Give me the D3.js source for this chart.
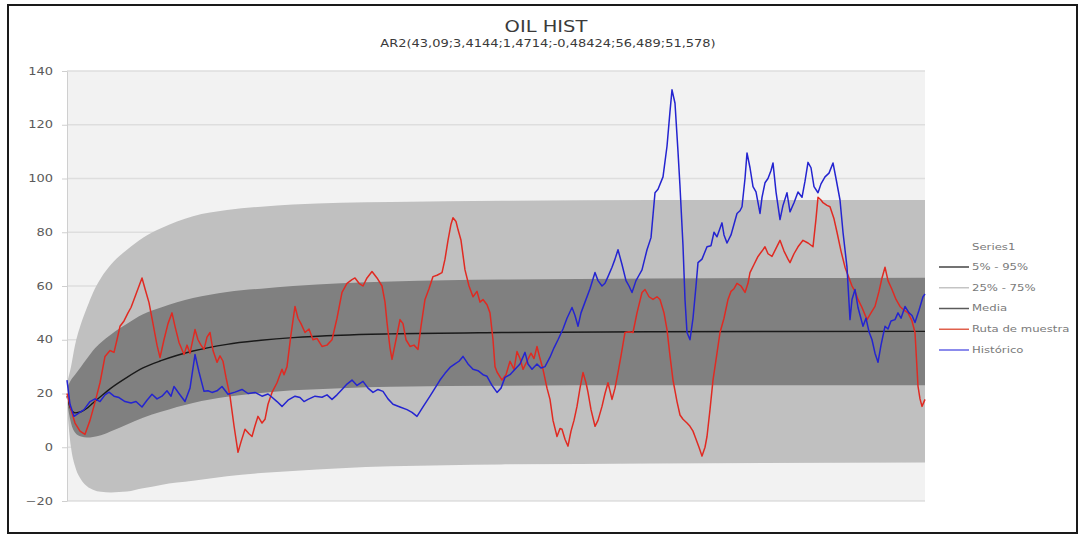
<!DOCTYPE html>
<html>
<head>
<meta charset="utf-8">
<script src="https://cdn.jsdelivr.net/npm/d3@7"></script>
<style>
  html, body { margin: 0; padding: 0; background: #fff; }
  svg { display: block; font-family: "DejaVu Sans", Verdana, sans-serif; }
</style>
</head>
<body>
<svg id="chart" width="1084" height="539"></svg>
<script>
// ---- Data ---------------------------------------------------------------
const chartTitle = "OIL HIST";
const chartSubtitle = "AR2(43,09;3,4144;1,4714;-0,48424;56,489;51,578)";
const yTicks = [-20, 0, 20, 40, 60, 80, 100, 120, 140];
const periodCount = 858;

// Fan of the AR(2) model: period index and percentile levels
const bandPeriods = [0, 4, 8, 14, 20, 26, 34, 44, 60, 76, 94, 126, 160, 194, 226, 274, 324, 434, 584, 858];
const p95 = [24, 30, 38, 46, 52, 57.5, 63, 68, 73.5, 78, 81.5, 86, 88.3, 89.5, 90.3, 91, 91.3, 91.7, 92, 92];
const p75 = [22, 25, 27, 30, 33, 36, 39, 42, 46, 49.5, 52, 55.5, 57.8, 59, 60, 61, 61.7, 62.4, 62.8, 63.1];
const media = [19, 14, 12.8, 13.2, 14.5, 16.5, 19, 22, 26, 29.5, 32.2, 35.8, 38.3, 39.8, 40.8, 41.7, 42.2, 42.7, 43, 43.1];
const p25 = [17, 9, 5.5, 4, 3.6, 3.8, 4.5, 6, 8.5, 11, 13.2, 16.5, 18.8, 20.2, 21.2, 22, 22.5, 22.9, 23.1, 23.1];
const p05 = [15, 0, -7, -12, -14.5, -15.8, -16.6, -16.8, -16.5, -15.3, -14, -12.5, -10.8, -9.6, -8.8, -7.8, -7.1, -6.4, -6, -5.7];

// Historical oil price: [period, value]
const historico = [
  [0,25],[3,16],[7,11.5],[11,12.5],[17,14],[23,17],[28,18],[33,17],[38,19.5],[42,20.5],
  [47,19],[52,18.5],[58,17],[64,16.5],[69,17],[75,15],[80,17.5],[85,19.7],[90,18],[95,19],
  [100,21],[104,19],[107,22.6],[112,20],[118,17],[123,22],[128,34.5],[132,28],[137,20.8],[141,21],
  [145,20.4],[150,21],[155,22.6],[161,19.7],[168,20.5],[175,21.5],[181,20],[188,20.4],[195,19],[201,19.8],
  [205,18.6],[210,17],[215,15.2],[221,17.5],[228,19],[233,18.5],[237,17],[241,17.8],[248,19],[255,18.6],
  [260,19.5],[265,17.8],[270,19.5],[275,21.5],[280,23.5],[285,25],[290,23],[296,24.5],[301,22],[306,20.4],
  [311,21.5],[316,20.8],[321,18],[326,16],[333,15],[340,14],[345,13],[350,11.5],[356,15],[363,19],
  [368,22],[373,25],[378,27.5],[383,29.7],[388,31],[392,32],[396,33.8],[401,31],[406,29],[411,28.5],
  [416,27],[420,26.4],[425,23],[430,20.4],[434,22],[438,26],[443,27],[448,29],[453,31],[458,35.3],
  [461,31],[465,29],[470,31],[474,29.5],[478,30],[483,33.5],[487,37],[491,40],[496,44],[500,48],
  [505,52],[508,49],[511,45],[514,50],[518,54],[523,59],[528,65],[531,62],[535,60],[538,61],
  [541,63.5],[545,67],[548,70],[551,73.5],[555,68],[559,62],[562,60],[565,57.6],[569,62],[572,64],
  [575,66],[580,73.5],[584,78],[588,94.7],[591,96],[596,100.6],[600,112],[603,125],[605,133],[608,128],
  [611,110],[613,97],[616,75],[618,55],[620,42.7],[623,40],[626,48],[629,60],[631,68.7],[635,70],
  [640,74.6],[644,75],[647,80],[650,78.3],[655,83.5],[657,79],[660,76],[664,79],[667,83],[670,87],
  [673,88],[675,89.5],[678,100],[680,109.5],[683,104],[686,97],[689,95],[693,87],[695,93],[698,98.4],
  [701,100],[704,103],[706,105.8],[709,95],[713,84.7],[716,90],[720,94.7],[723,87.6],[727,91],[731,95],
  [735,93],[738,99],[741,106],[744,104],[747,97],[751,94.7],[754,98],[758,100.6],[762,102],[766,105.8],
  [769,100],[773,92],[776,80],[780,67],[783,47.5],[785,55],[788,58.7],[791,52],[796,45],[799,48],
  [802,43],[805,40],[808,35],[811,31.6],[814,38],[818,45],[821,44],[824,47],[828,47.5],[831,50],
  [834,48],[838,52.4],[842,50],[845,49],[848,46.4],[852,51],[856,56],[858,57]
];

// One simulated sample path of the model: [period, value]
const rutaMuestra = [
  [0,20],[4,14],[8,9],[13,6],[18,4.8],[23,10],[28,16.7],[33,24],[38,33.8],[43,36],
  [47,35.3],[50,40],[53,45],[57,47],[61,50],[64,52],[67,55],[71,59],[75,63],[78,59],
  [82,53.8],[86,46],[90,38],[93,33.4],[97,40],[101,46],[105,50],[108,45],[112,39],[117,34.5],
  [120,38],[123,35],[128,43.8],[131,40],[134,38],[137,36.4],[140,41],[143,42.7],[146,36],[150,31.6],
  [153,34],[156,32],[159,26],[163,19],[167,8],[171,-1.9],[174,2],[178,6.7],[182,5],[185,4],
  [188,8],[191,11.5],[195,9],[198,10.4],[201,16],[205,20.4],[210,24],[215,29],[217,27],[220,30],
  [224,42],[228,52.4],[231,48],[234,46],[238,42.7],[242,44],[246,40],[250,40.5],[255,37.5],[260,38],
  [265,40],[270,48],[275,57.6],[280,61],[285,62.4],[288,63],[292,61],[296,60],[300,63],[305,65.4],
  [310,63],[315,60],[318,54],[320,46.4],[323,37],[325,32.7],[329,40],[333,47.5],[336,46],[339,40],
  [343,37.5],[347,38],[351,36.4],[354,45],[358,55],[362,59],[366,63.5],[370,64],[375,65],[378,70],
  [381,77],[384,83],[386,85.4],[389,84],[391,81],[394,77],[398,66],[402,60],[406,56],[410,58],
  [413,54],[416,55],[420,53],[423,50],[426,40],[428,30],[430,28],[435,25],[439,27],[443,32],
  [447,29],[450,35.6],[453,33],[456,29],[460,32],[464,35],[467,33],[470,37.5],[473,33],[476,29],
  [480,22],[483,17.8],[486,10],[490,4],[493,7],[495,6.7],[498,3],[501,0.4],[504,6],[507,10],
  [510,15.2],[513,22],[516,27.8],[519,24],[521,20.4],[524,14],[528,7.8],[531,10],[535,15.2],[538,20],
  [541,24],[543,21],[545,17.8],[548,22],[551,27.8],[554,34],[558,42.7],[562,43],[566,42.7],[570,50],
  [575,57.6],[578,58.7],[582,56],[586,55],[590,56],[593,55],[597,50],[600,43.8],[603,34],[606,25],
  [610,17],[613,12],[616,10.4],[620,9],[623,7.8],[626,6],[628,4],[632,0],[635,-3.3],[638,0],
  [640,4],[643,14],[646,25],[650,35],[653,42.7],[657,48],[661,55],[664,58],[667,59],[670,61],
  [674,60],[678,57.6],[681,61],[683,65],[687,68],[691,71],[695,73],[698,74.6],[701,72],[705,71],
  [709,74],[713,77],[717,73],[721,70],[723,68.7],[727,72],[731,74.6],[736,77],[741,76],[746,74.6],
  [749,85],[751,93],[754,92],[756,91],[760,90],[763,89.5],[767,85],[770,80],[774,73],[778,67],
  [782,63],[785,60],[788,58],[791,55],[795,52],[800,47.5],[804,50],[808,52.4],[812,58],[815,63],
  [818,67],[821,62],[825,58.7],[829,55],[833,52.4],[837,51],[841,50],[845,47],[848,42.7],[851,22.7],
  [853,18],[855,15.2],[858,17.8]
];

const legendTitle = "Series1";
const legendItems = ["5% - 95%", "25% - 75%", "Media", "Ruta de muestra", "Histórico"];
const legendColors = ["#454545", "#c4c4c4", "#5a5a5a", "#e0604c", "#6464e6"];

// ---- Layout -------------------------------------------------------------
const svg = d3.select("#chart");
const W = 1084, H = 539;
const plot = { left: 67, right: 925, top: 71, bottom: 501 };
const STRETCH = 1.3; // horizontal stretch applied to all labels

const x = d3.scaleLinear().domain([0, periodCount]).range([plot.left, plot.right]);
const y = d3.scaleLinear().domain([-20, 140]).range([plot.bottom, plot.top]);

function stretch(sel, k) {
  sel.each(function () {
    const t = d3.select(this);
    const tx = +t.attr("x") || 0;
    t.attr("transform", `translate(${tx},0) scale(${k},1) translate(${-tx},0)`);
  });
}

svg.append("rect").attr("width", W).attr("height", H).attr("fill", "#fff");

// plot background
svg.append("rect")
  .attr("x", plot.left).attr("y", plot.top)
  .attr("width", plot.right - plot.left).attr("height", plot.bottom - plot.top)
  .attr("fill", "#f2f2f2");

// horizontal gridlines
svg.append("g").selectAll("line")
  .data(yTicks.filter(d => d !== -20))
  .join("line")
  .attr("x1", plot.left).attr("x2", plot.right)
  .attr("y1", d => y(d)).attr("y2", d => y(d))
  .attr("stroke", "#dedede").attr("stroke-width", 1.5);

// fan bands
const bandRows = bandPeriods.map((t, i) => ({
  t, p05: p05[i], p25: p25[i], p50: media[i], p75: p75[i], p95: p95[i]
}));

const outerArea = d3.area()
  .x(d => x(d.t)).y0(d => y(d.p05)).y1(d => y(d.p95))
  .curve(d3.curveMonotoneX);
const innerArea = d3.area()
  .x(d => x(d.t)).y0(d => y(d.p25)).y1(d => y(d.p75))
  .curve(d3.curveMonotoneX);

svg.append("path").datum(bandRows).attr("d", outerArea).attr("fill", "#c0c0c0");
svg.append("path").datum(bandRows).attr("d", innerArea).attr("fill", "#808080");

svg.append("path").datum(bandRows)
  .attr("d", d3.line().x(d => x(d.t)).y(d => y(d.p50)).curve(d3.curveMonotoneX))
  .attr("fill", "none").attr("stroke", "#1a1a1a").attr("stroke-width", 1.4);

// axes
const yAxis = d3.axisLeft(y).tickValues(yTicks).tickSizeInner(5).tickSizeOuter(0).tickPadding(9);
const gy = svg.append("g").attr("transform", `translate(${plot.left},0)`).call(yAxis);
gy.select(".domain").attr("stroke", "#cfcfcf");
gy.selectAll(".tick line").attr("stroke", "#cfcfcf");
gy.selectAll(".tick text")
  .attr("fill", "#5a5a5a")
  .style("font-size", "10px")
  .style("font-family", "'DejaVu Sans', sans-serif")
  .call(stretch, STRETCH);

svg.append("line")
  .attr("x1", plot.left).attr("x2", plot.right)
  .attr("y1", plot.bottom).attr("y2", plot.bottom)
  .attr("stroke", "#cfcfcf").attr("stroke-width", 1.2);

// series lines
const seriesLine = d3.line().x(d => x(d[0])).y(d => y(d[1]));

svg.append("path").datum(rutaMuestra)
  .attr("d", seriesLine)
  .attr("fill", "none").attr("stroke", "#e02a22").attr("stroke-width", 1.5)
  .attr("stroke-linejoin", "round");

svg.append("path").datum(historico)
  .attr("d", seriesLine)
  .attr("fill", "none").attr("stroke", "#2424d0").attr("stroke-width", 1.5)
  .attr("stroke-linejoin", "round");

// titles
svg.append("text")
  .attr("x", 546).attr("y", 32)
  .attr("text-anchor", "middle")
  .attr("fill", "#3a3a3a")
  .style("font-size", "15px")
  .text(chartTitle)
  .call(stretch, STRETCH);

svg.append("text")
  .attr("x", 548).attr("y", 47)
  .attr("text-anchor", "middle")
  .attr("fill", "#3a3a3a")
  .style("font-size", "10px")
  .text(chartSubtitle)
  .call(stretch, STRETCH);

// legend
const legend = svg.append("g");
legend.append("text")
  .attr("x", 972).attr("y", 250)
  .attr("fill", "#7a7a7a")
  .style("font-size", "9px")
  .text(legendTitle)
  .call(stretch, STRETCH);

const legendY = d3.scalePoint().domain(legendItems).range([267, 350]);
const rows = legend.selectAll("g.item").data(legendItems).join("g").attr("class", "item");
rows.append("line")
  .attr("x1", 939).attr("x2", 969)
  .attr("y1", d => legendY(d)).attr("y2", d => legendY(d))
  .attr("stroke", (d, i) => legendColors[i]).attr("stroke-width", 1.5);
rows.append("text")
  .attr("x", 972).attr("y", d => legendY(d) + 3)
  .attr("fill", "#7a7a7a")
  .style("font-size", "9px")
  .text(d => d)
  .call(stretch, STRETCH);

// outer frame
svg.append("rect")
  .attr("x", 8).attr("y", 5).attr("width", 1069).attr("height", 528)
  .attr("fill", "none").attr("stroke", "#1a1a1a").attr("stroke-width", 2);
</script>
</body>
</html>
